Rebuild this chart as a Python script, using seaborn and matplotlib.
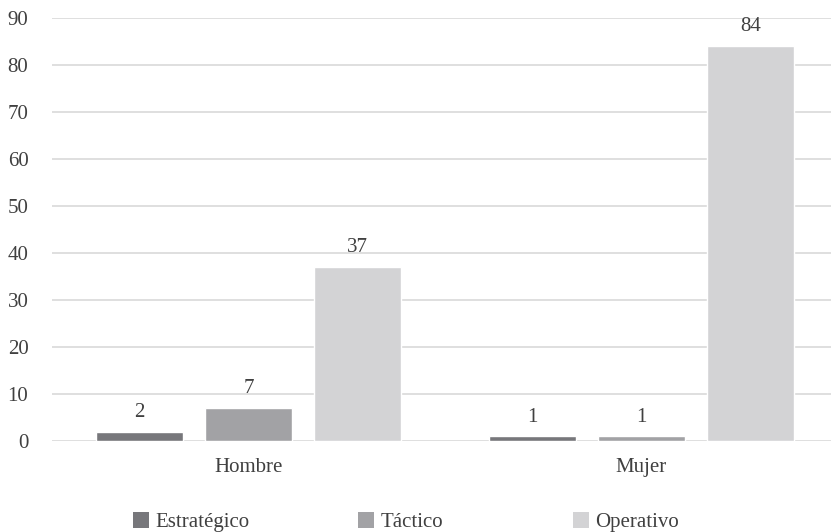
import matplotlib
matplotlib.use("Agg")
import matplotlib.pyplot as plt
from matplotlib.patches import Patch
import pandas as pd
import seaborn as sns

generos = ["Hombre", "Mujer"]
niveles = ["Estratégico", "Táctico", "Operativo"]
estrategico = [2, 1]
tactico = [7, 1]
operativo = [37, 84]
colores = ["#77777b", "#a2a2a5", "#d3d3d5"]

df = pd.DataFrame({
    "genero": generos * 3,
    "nivel": [n for n in niveles for _ in generos],
    "valor": estrategico + tactico + operativo,
})

sns.set_theme(style="white")
plt.rcParams["font.family"] = ["Liberation Serif", "DejaVu Serif"]
texto = "#404040"
fs = 15

fig = plt.figure(figsize=(8.31, 5.32), dpi=100)
ax = fig.add_axes([52 / 831, 1 - 441 / 532, 786 / 831, 423 / 532])

sns.barplot(data=df, x="genero", y="valor", hue="nivel", hue_order=niveles,
            order=generos, palette=colores, width=0.832, gap=0.2,
            legend=False, ax=ax, zorder=3)

for cont in ax.containers:
    ax.bar_label(cont, padding=7, fontsize=fs, color=texto)

ax.set_xlim(-0.5, 1.5)
ax.set_ylim(0, 90)
ax.set_yticks(range(0, 91, 10))
ax.yaxis.grid(True, color="#d9d9d9", linewidth=1.2, zorder=0)
ax.set_axisbelow(True)
for s in ax.spines.values():
    s.set_visible(False)
ax.set_xlabel("")
ax.set_ylabel("")
ax.tick_params(axis="y", length=0, pad=17, labelsize=fs, labelcolor=texto)
ax.tick_params(axis="x", length=0, pad=12, labelsize=fs, labelcolor=texto)

# one legend entry per slot, spaced along the bottom
for nivel, color, x0 in zip(niveles, colores, [133, 358, 573]):
    fig.legend(handles=[Patch(facecolor=color, edgecolor="none", label=nivel)],
               loc="center left", bbox_to_anchor=(x0 / 831, 1 - 522 / 532),
               frameon=False, fontsize=fs, labelcolor=texto,
               handlelength=0.78, handleheight=0.78, handletextpad=0.3,
               borderpad=0, borderaxespad=0)

fig.savefig("out.png", dpi=100)
